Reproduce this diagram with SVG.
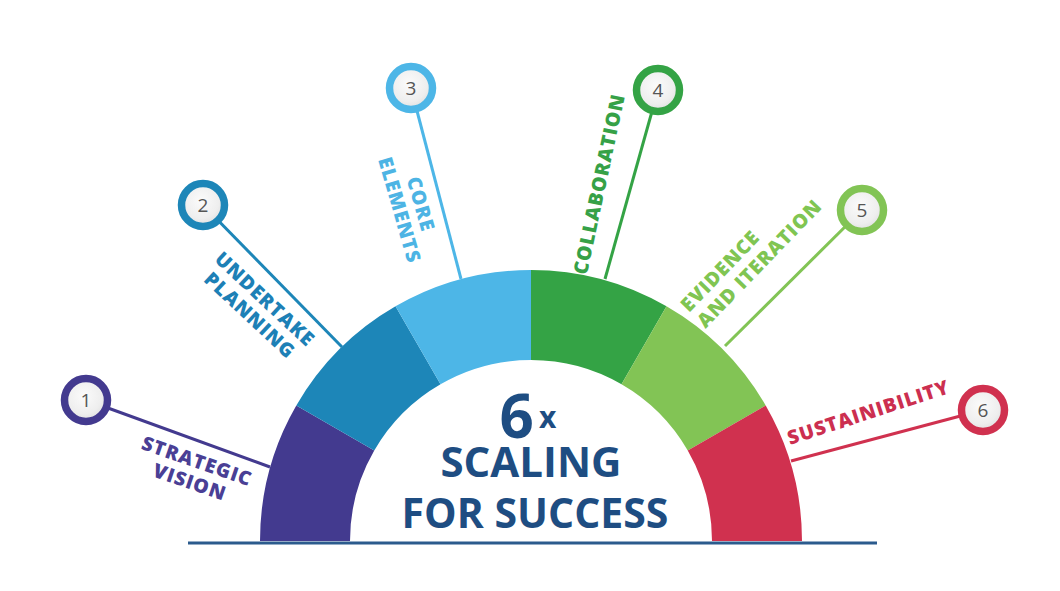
<svg xmlns="http://www.w3.org/2000/svg" width="1060" height="591" viewBox="0 0 1060 591">
  <defs>
    <radialGradient id="knob" cx="45%" cy="40%" r="60%">
      <stop offset="0" stop-color="#fbfbfb"/>
      <stop offset="0.7" stop-color="#eeeeee"/>
      <stop offset="1" stop-color="#dedede"/>
    </radialGradient>
  </defs>
  <style>
    .lbl { font-family: "Open Sans", "Liberation Sans", sans-serif; font-weight: 800; font-size: 19.5px; letter-spacing: 1px; }
    .num { font-family: "Open Sans", "Liberation Sans", sans-serif; font-weight: 400; font-size: 19px; fill: #555555; text-anchor: middle; }
    .ring { fill: url(#knob); stroke-width: 7.5; }
    .conn { stroke-width: 3; fill: none; }
    .center { font-family: "Open Sans", "Liberation Sans", sans-serif; font-weight: 700; fill: #1e4d82; text-anchor: middle; }
  </style>
  <rect width="1060" height="591" fill="#ffffff"/>

  <g id="arc">
    <path d="M260,541 A271,271 0 0 1 296.31,405.5 L374.25,450.5 A181,181 0 0 0 350,541 Z" fill="#433a8f"/>
    <path d="M296.31,405.5 A271,271 0 0 1 395.5,306.31 L440.5,384.25 A181,181 0 0 0 374.25,450.5 Z" fill="#1d86b8"/>
    <path d="M395.5,306.31 A271,271 0 0 1 531,270 L531,360 A181,181 0 0 0 440.5,384.25 Z" fill="#4db6e7"/>
    <path d="M531,270 A271,271 0 0 1 666.5,306.31 L621.5,384.25 A181,181 0 0 0 531,360 Z" fill="#34a345"/>
    <path d="M666.5,306.31 A271,271 0 0 1 765.69,405.5 L687.75,450.5 A181,181 0 0 0 621.5,384.25 Z" fill="#82c455"/>
    <path d="M765.69,405.5 A271,271 0 0 1 802,541 L712,541 A181,181 0 0 0 687.75,450.5 Z" fill="#d0314f"/>
  </g>

  <g id="baseline">
    <line x1="188" y1="543" x2="877" y2="543" stroke="#2b5b8d" stroke-width="3"/>
  </g>

  <g id="connectors">
    <line class="conn" x1="86" y1="400" x2="270" y2="467" stroke="#433a8f"/>
    <line class="conn" x1="203" y1="205" x2="342" y2="347" stroke="#1d86b8"/>
    <line class="conn" x1="411" y1="88" x2="461" y2="279" stroke="#4db6e7"/>
    <line class="conn" x1="658" y1="90" x2="605" y2="279" stroke="#34a345"/>
    <line class="conn" x1="862" y1="210" x2="725" y2="346" stroke="#82c455"/>
    <line class="conn" x1="983" y1="410" x2="791" y2="461" stroke="#d0314f"/>
  </g>

  <g id="node1">
    <circle class="ring" cx="86" cy="400" r="21.5" stroke="#433a8f"/>
    <text class="num" x="86" y="407">1</text>
    <g transform="translate(197,461) rotate(19)" fill="#4a3f95">
      <text class="lbl" text-anchor="middle" x="0" y="7">STRATEGIC</text>
      <text class="lbl" text-anchor="middle" x="0" y="29">VISION</text>
    </g>
  </g>

  <g id="node2">
    <circle class="ring" cx="203" cy="205" r="21.5" stroke="#1d86b8"/>
    <text class="num" x="203" y="212">2</text>
    <g transform="translate(265,299) rotate(43)" fill="#1d80b6">
      <text class="lbl" text-anchor="middle" x="0" y="7">UNDERTAKE</text>
      <text class="lbl" text-anchor="middle" x="0" y="29">PLANNING</text>
    </g>
  </g>

  <g id="node3">
    <circle class="ring" cx="411" cy="88" r="21.5" stroke="#4db6e7"/>
    <text class="num" x="411" y="95">3</text>
    <g transform="translate(421,204) rotate(74)" fill="#4db4e4">
      <text class="lbl" text-anchor="middle" x="0" y="7">CORE</text>
      <text class="lbl" text-anchor="middle" x="0" y="29">ELEMENTS</text>
    </g>
  </g>

  <g id="node4">
    <circle class="ring" cx="658" cy="90" r="21.5" stroke="#34a345"/>
    <text class="num" x="658" y="97">4</text>
    <g transform="translate(599,184) rotate(-78)" fill="#36a147">
      <text class="lbl" text-anchor="middle" x="0" y="7">COLLABORATION</text>
    </g>
  </g>

  <g id="node5">
    <circle class="ring" cx="862" cy="210" r="21.5" stroke="#82c455"/>
    <text class="num" x="862" y="217">5</text>
    <g transform="translate(689,313) rotate(-46)" fill="#80c552">
      <text class="lbl" x="0" y="0">EVIDENCE</text>
      <text class="lbl" x="0" y="23">AND ITERATION</text>
    </g>
  </g>

  <g id="node6">
    <circle class="ring" cx="983" cy="410" r="21.5" stroke="#d0314f"/>
    <text class="num" x="983" y="417">6</text>
    <g transform="translate(790,445) rotate(-18)" fill="#cc2f50">
      <text class="lbl" x="0" y="0">SUSTAINIBILITY</text>
    </g>
  </g>

  <g id="title">
    <text class="center">
      <tspan x="530" y="438" font-size="60">6</tspan><tspan dx="5" dy="-10" font-size="30">x</tspan>
      <tspan x="533" y="477" font-size="42">SCALING</tspan>
      <tspan x="535" y="528" font-size="41">FOR SUCCESS</tspan>
    </text>
  </g>
</svg>
